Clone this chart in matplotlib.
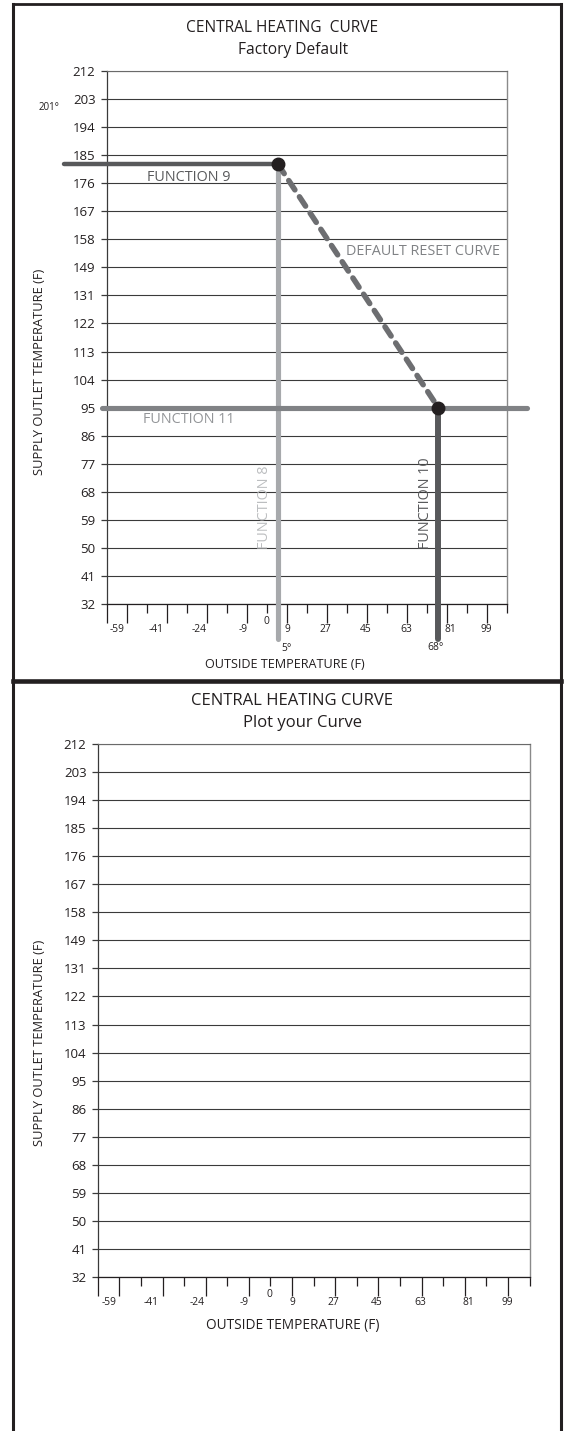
import numpy as np
import matplotlib
matplotlib.use("Agg")
import matplotlib.pyplot as plt
from matplotlib.lines import Line2D

plt.rcParams['font.family'] = ['Open Sans', 'DejaVu Sans']

# axis labels of the two charts
supply_ticks = [32, 41, 50, 59, 68, 77, 86, 95, 104, 113, 122, 131, 149, 158, 167, 176, 185, 194, 203, 212]
outside_labels = ["-59", "-41", "-24", "-9", "0", "9", "27", "45", "63", "81", "99"]
long_ticks = [-72, -63, -45, -27, -9, 9, 27, 45, 63, 81, 99]
short_ticks = [-54, -36, -18, 0, 18, 36, 54, 72, 90, 108]

# factory default curve (as drawn on the sheet)
f9_supply = 182      # max supply temp
f9_start = -91
f8_outside = 5       # outside temp for max supply
f11_supply = 95      # min supply temp
f11_span = [-74, 117]
f10_outside = 77     # outside temp for min supply (marked 68 on the sheet)
drop_end = 21        # where the vertical guides stop below the axis

W, H = 564, 1431
INK = '#231f20'
fig = plt.figure(figsize=(W / 100, H / 100), dpi=100)


def fx(px):
    return px / W


def fy(py):
    return 1 - py / H


yv = np.array(supply_ticks, float)
yi = np.arange(len(supply_ticks), dtype=float)


def to_idx(v):
    v = np.asarray(v, float)
    out = np.interp(v, yv, yi)
    out = np.where(v < yv[0], (v - yv[0]) / 9, out)
    out = np.where(v > yv[-1], yi[-1] + (v - yv[-1]) / 9, out)
    return out


def from_idx(i):
    i = np.asarray(i, float)
    out = np.interp(i, yi, yv)
    out = np.where(i < 0, yv[0] + i * 9, out)
    out = np.where(i > yi[-1], yv[-1] + (i - yi[-1]) * 9, out)
    return out


# tick label spots under the axis (they sit a little off the tick marks)
label_pos = [-67.5, -49.9, -30.4, -10.9, -0.4, 9, 26.2, 44.4, 62.4, 82.5, 98.7]


def make_panel(left, right, top, bottom, title, subtitle, tsize, tcx, scx,
               xlab_xy, xlab_size, ylab_y):
    ax = fig.add_axes([fx(left), fy(bottom), (right - left) / W, (bottom - top) / H])
    ax.set_yscale('function', functions=(to_idx, from_idx))
    ax.set_ylim(32, 212)
    ax.set_xlim(-72, 108)
    ax.set_yticks(supply_ticks)
    ax.set_yticklabels([str(v) for v in supply_ticks])
    ax.yaxis.set_minor_locator(matplotlib.ticker.NullLocator())
    ax.set_xticks(long_ticks)
    ax.set_xticks(short_ticks, minor=True)
    ax.tick_params(axis='x', which='major', length=13.7, width=0.9, color=INK,
                   labelbottom=False, direction='out')
    ax.tick_params(axis='x', which='minor', length=6.5, width=0.9, color=INK,
                   labelbottom=False, direction='out')
    ax.tick_params(axis='y', length=4.6, width=0.9, color='#3a3a3a', pad=3.5,
                   labelsize=9.5, labelcolor=INK)
    ax.grid(axis='y', color='#3a3a3a', lw=0.8)
    ax.set_axisbelow(True)
    ax.spines['left'].set_color('#3a3a3a')
    ax.spines['left'].set_linewidth(0.9)
    ax.spines['right'].set_color('#8a8a8a')
    ax.spines['right'].set_linewidth(1.0)
    ax.spines['top'].set_color('#6a6a6a')
    ax.spines['top'].set_linewidth(0.8)
    ax.spines['bottom'].set_color(INK)
    ax.spines['bottom'].set_linewidth(0.9)
    for lbl, pos in zip(outside_labels, label_pos):
        dy = -12.7 if lbl == "0" else -18
        ax.annotate(lbl, xy=(pos, 0), xycoords=ax.get_xaxis_transform(),
                    xytext=(0, dy), textcoords='offset points',
                    ha='center', va='center', fontsize=7.4, color=INK)
    fig.text(fx(tcx), fy(top - 42.5), title, ha='center', va='center', fontsize=tsize, color=INK)
    fig.text(fx(scx), fy(top - 20.7), subtitle, ha='center', va='center', fontsize=tsize, color=INK)
    fig.text(fx(xlab_xy[0]), fy(xlab_xy[1]), "OUTSIDE TEMPERATURE (F)",
             ha='center', va='center', fontsize=xlab_size, color=INK)
    fig.text(fx(40), fy(ylab_y), "SUPPLY OUTLET TEMPERATURE (F)", rotation=90,
             ha='center', va='center', fontsize=9.3, color=INK)
    return ax


ax1 = make_panel(106.7, 507.3, 70.7, 604.3, "CENTRAL HEATING  CURVE", "Factory Default",
                 11.2, 282, 293, (284.7, 664), 9.1, 372)
ax2 = make_panel(97.8, 529.5, 743.7, 1277.3, "CENTRAL HEATING CURVE", "Plot your Curve",
                 12, 292, 302, (293, 1325.7), 9.8, 1043)

# factory default settings
ax1.plot([f8_outside, f8_outside], [f9_supply, drop_end], color='#a7a9ac', lw=3.7,
         solid_capstyle='round', clip_on=False, zorder=3)
ax1.plot([f9_start, f8_outside], [f9_supply, f9_supply], color='#58595b', lw=3.2,
         solid_capstyle='round', clip_on=False, zorder=3)
ax1.plot(f11_span, [f11_supply, f11_supply], color='#808285', lw=3.7,
         solid_capstyle='round', clip_on=False, zorder=4)
ax1.plot([f10_outside, f10_outside], [f11_supply, drop_end], color='#58595b', lw=4.3,
         solid_capstyle='round', clip_on=False, zorder=5)
ax1.plot([f8_outside, f10_outside], [f9_supply, f11_supply], color='#6d6e71', lw=4.0,
         dashes=(2.0, 1.5), dash_capstyle='round', zorder=5)
ax1.plot([f8_outside, f10_outside], [f9_supply, f11_supply], 'o', color=INK, ms=9,
         zorder=6, clip_on=False)

fig.text(fx(146.7), fy(177.3), "FUNCTION 9", ha='left', va='center', fontsize=10.4, color='#58595b')
fig.text(fx(345.7), fy(251.7), "DEFAULT RESET CURVE", ha='left', va='center', fontsize=10.4,
         color='#808285')
fig.text(fx(143), fy(419.3), "FUNCTION 11", ha='left', va='center', fontsize=10.4, color='#939598')
fig.text(fx(264.4), fy(549.3), "FUNCTION 8", rotation=90, ha='center', va='bottom', fontsize=10.4,
         color='#bcbec0')
fig.text(fx(425.5), fy(549.3), "FUNCTION 10", rotation=90, ha='center', va='bottom', fontsize=10.4,
         color='#58595b')
fig.text(fx(286.7), fy(648.3), "5°", ha='center', va='center', fontsize=7.4, color=INK)
fig.text(fx(435.7), fy(647.7), "68°", ha='center', va='center', fontsize=7.4, color=INK)
fig.text(fx(49), fy(107.3), "201°", ha='center', va='center', fontsize=7, color=INK)

# sheet border
for xs, ys, lw in [([13.3, 13.3], [4, H], 2.2), ([561, 561], [4, H], 2.2),
                   ([13.3, 561], [4, 4], 2.0), ([13.3, 561], [680.5, 680.5], 3.3)]:
    fig.add_artist(Line2D([fx(x) for x in xs], [fy(y) for y in ys], color=INK, lw=lw,
                          solid_capstyle='projecting'))

fig.savefig("out.png", dpi=100)
